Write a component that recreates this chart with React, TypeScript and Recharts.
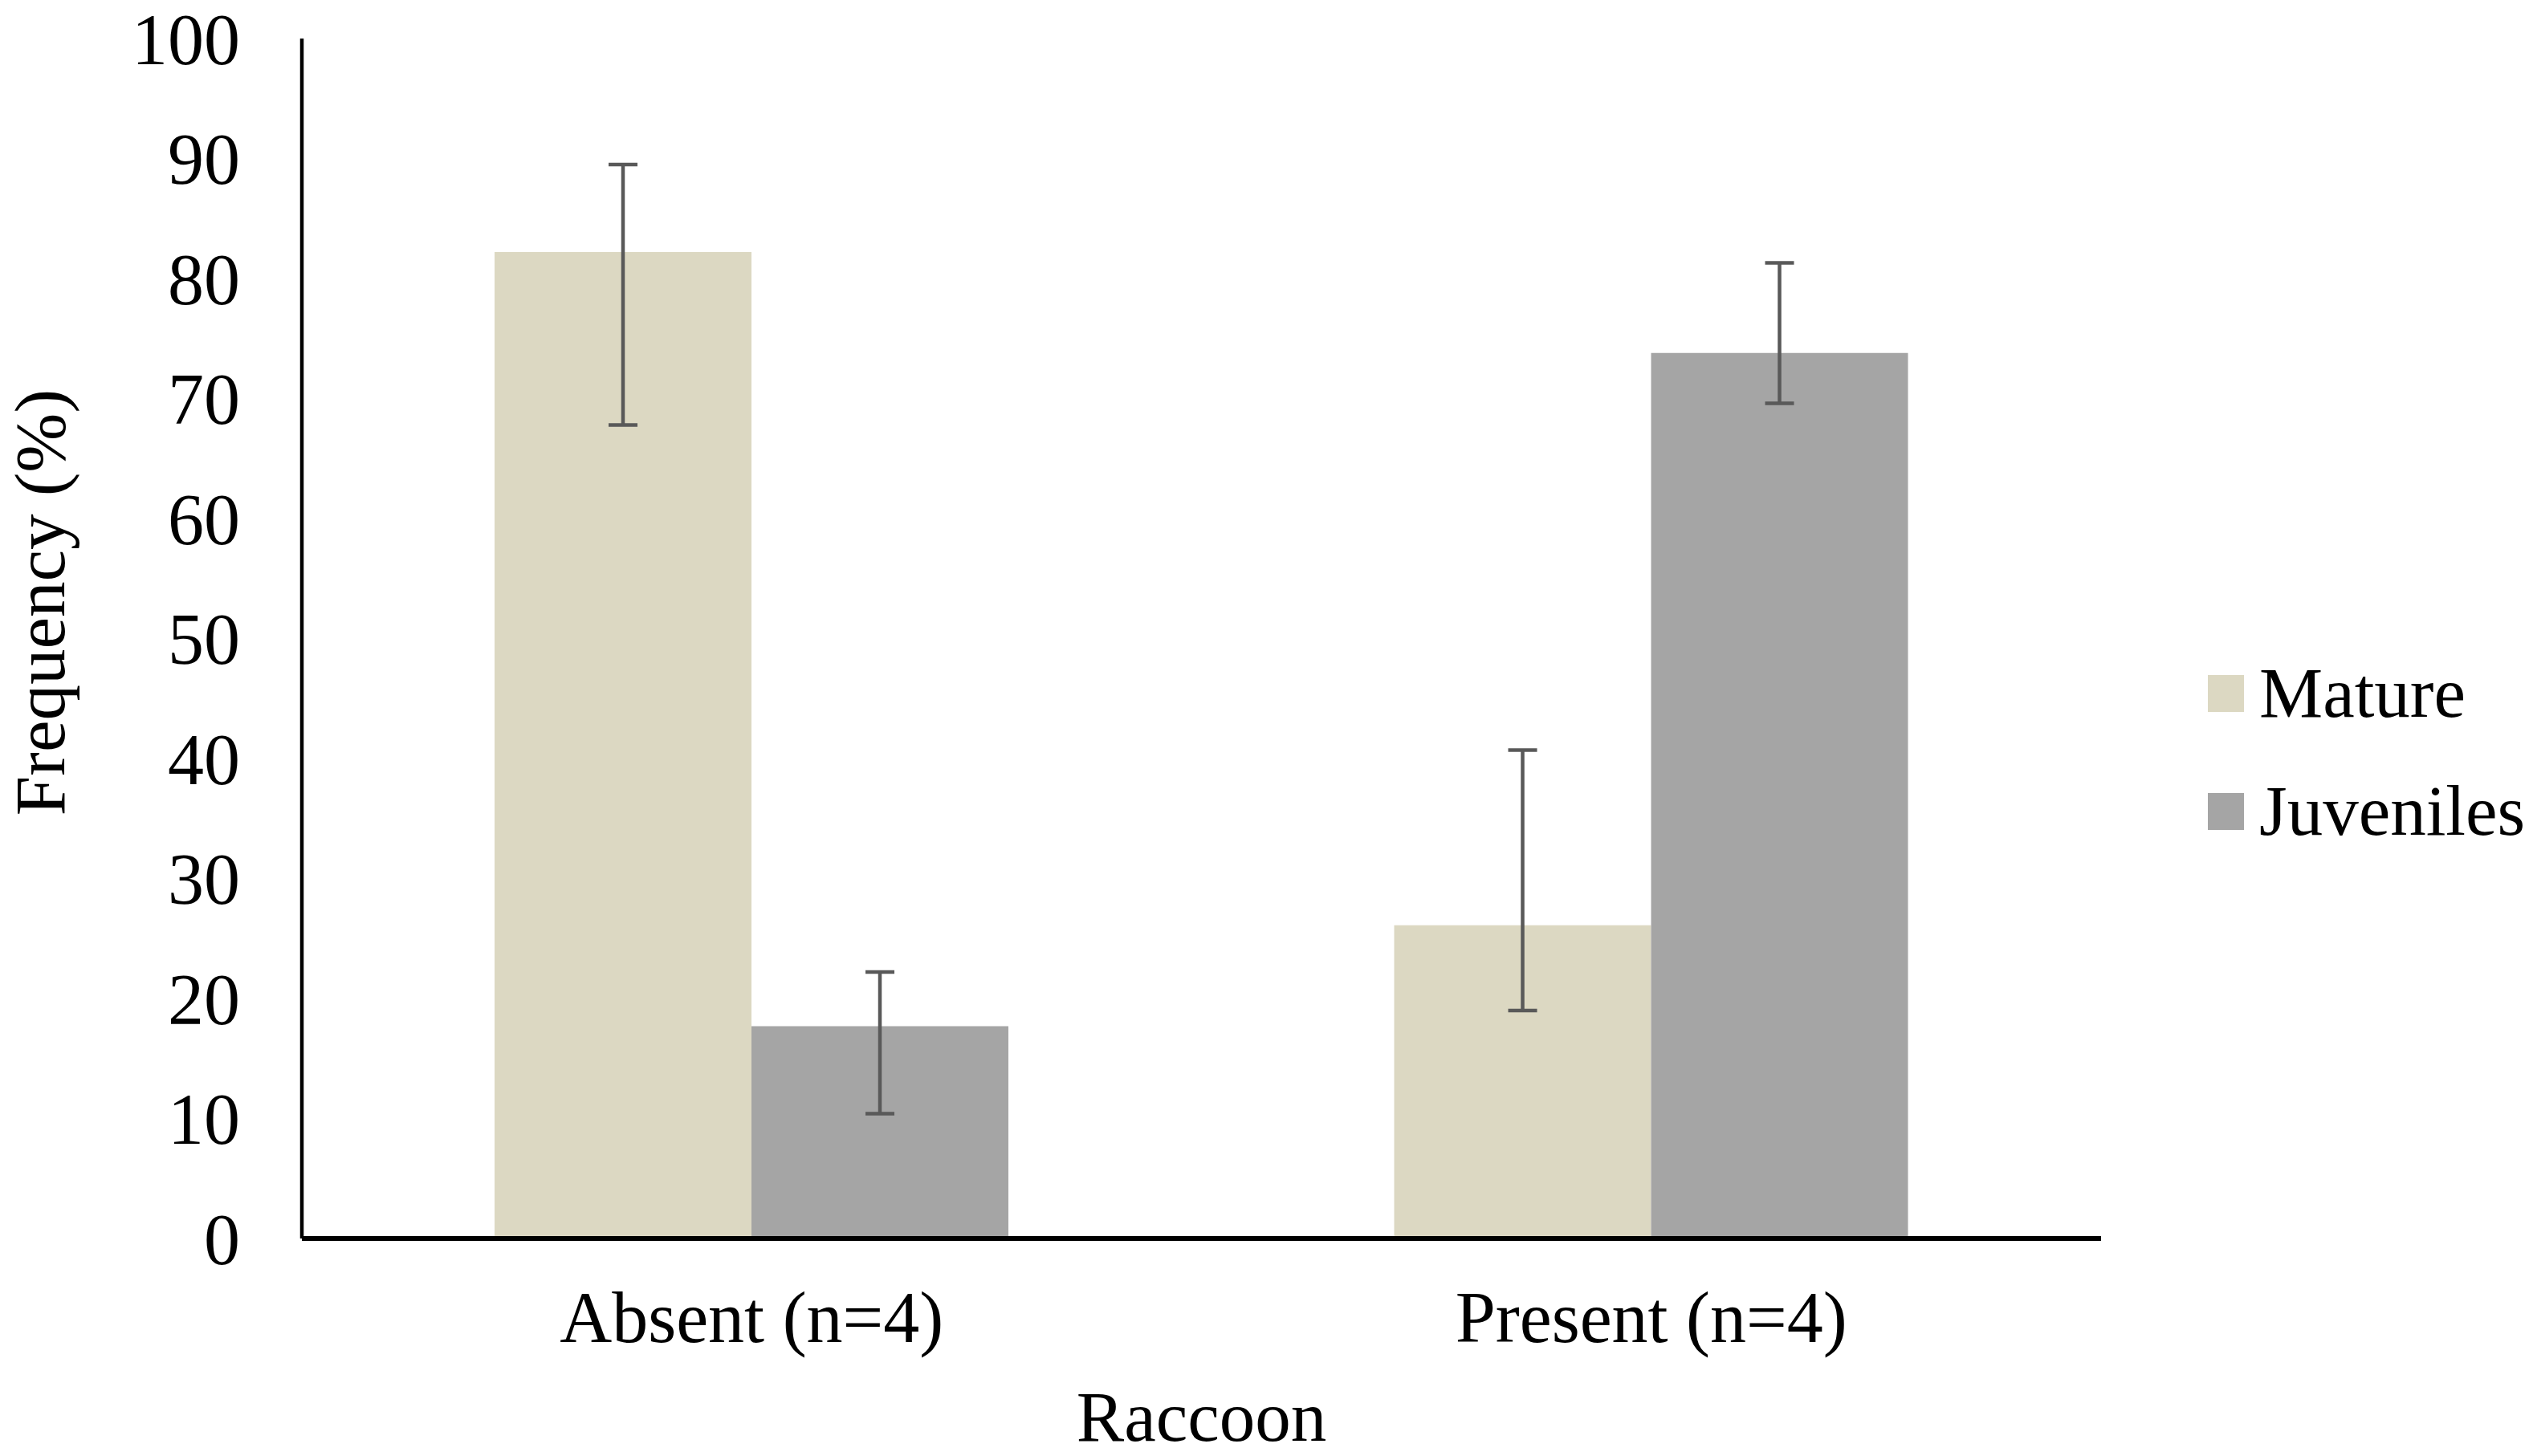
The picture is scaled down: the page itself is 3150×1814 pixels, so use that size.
import React from 'react';
import { BarChart, Bar, XAxis, YAxis, ErrorBar, Legend } from 'recharts';

const categories = ['Absent (n=4)', 'Present (n=4)'];
const matureValues = [82.2, 26.1];
const juvenileValues = [17.7, 73.8];
// [minus, plus] deltas
const matureErrors = [
  [14.4, 7.3],
  [7.1, 14.6],
];
const juvenileErrors = [
  [7.3, 4.5],
  [4.2, 7.5],
];
const yTicks = [0, 10, 20, 30, 40, 50, 60, 70, 80, 90, 100];

const seriesNames = ['Mature', 'Juveniles'];
const seriesColors = ['#DCD8C2', '#A5A5A5'];

const FONT = '"Liberation Serif", "Times New Roman", serif';

const data = categories.map((c, i) => ({
  category: c,
  Mature: matureValues[i],
  Juveniles: juvenileValues[i],
  matureErr: matureErrors[i],
  juvErr: juvenileErrors[i],
}));

const LegendContent = (props: any) => {
  const payload = [...(props.payload || [])].sort(
    (a: any, b: any) => seriesNames.indexOf(a.value) - seriesNames.indexOf(b.value)
  );
  return (
    <div style={{ fontFamily: FONT, fontSize: 89, color: '#000' }}>
      {payload.map((p: any) => (
        <div
          key={p.value}
          style={{ height: 147, display: 'flex', alignItems: 'center' }}
        >
          <div style={{ width: 45, height: 46, background: p.color, flex: '0 0 auto' }} />
          <span style={{ marginLeft: 19, whiteSpace: 'nowrap', lineHeight: 1.15 }}>{p.value}</span>
        </div>
      ))}
    </div>
  );
};

export default function App() {
  return (
    <div style={{ position: 'absolute', left: 0, top: 0, width: 3150, height: 1814, background: '#fff' }}>
      <BarChart
        width={3150}
        height={1814}
        data={data}
        margin={{ top: 48, right: 533, bottom: 0, left: 0 }}
        barSize={320}
        barGap={0}
      >
        <XAxis
          dataKey="category"
          height={271}
          tickLine={false}
          tickSize={0}
          tickMargin={65}
          axisLine={{ stroke: '#000', strokeWidth: 6 }}
          tick={{ fontSize: 90, fill: '#000', fontFamily: FONT }}
          label={{
            content: (p: any) => {
              const vb = p.viewBox || {};
              return (
                <text
                  x={vb.x + vb.width / 2}
                  y={vb.y + 252}
                  textAnchor="middle"
                  fontSize={89}
                  fontFamily={FONT}
                  fill="#000"
                >
                  Raccoon
                </text>
              );
            },
          }}
        />
        <YAxis
          width={376}
          domain={[0, 100]}
          ticks={yTicks}
          interval={0}
          tickLine={false}
          tickSize={0}
          tickMargin={77}
          axisLine={{ stroke: '#000', strokeWidth: 4.5 }}
          tick={{ fontSize: 90, fill: '#000', fontFamily: FONT }}
          label={{
            content: (p: any) => {
              const vb = p.viewBox || {};
              const x = vb.x + 80;
              const y = vb.y + vb.height / 2 - 45;
              return (
                <text
                  x={x}
                  y={y}
                  transform={`rotate(-90, ${x}, ${y})`}
                  textAnchor="middle"
                  fontSize={89}
                  fontFamily={FONT}
                  fill="#000"
                >
                  Frequency (%)
                </text>
              );
            },
          }}
        />
        <Legend
          layout="vertical"
          align="center"
          verticalAlign="middle"
          wrapperStyle={{ left: 2750, top: 790, width: 400 }}
          content={<LegendContent />}
        />
        <Bar dataKey="Mature" name={seriesNames[0]} fill={seriesColors[0]} isAnimationActive={false}>
          <ErrorBar dataKey="matureErr" direction="y" width={18} strokeWidth={4.5} stroke="#595959" isAnimationActive={false} />
        </Bar>
        <Bar dataKey="Juveniles" name={seriesNames[1]} fill={seriesColors[1]} isAnimationActive={false}>
          <ErrorBar dataKey="juvErr" direction="y" width={18} strokeWidth={4.5} stroke="#595959" isAnimationActive={false} />
        </Bar>
      </BarChart>
    </div>
  );
}
